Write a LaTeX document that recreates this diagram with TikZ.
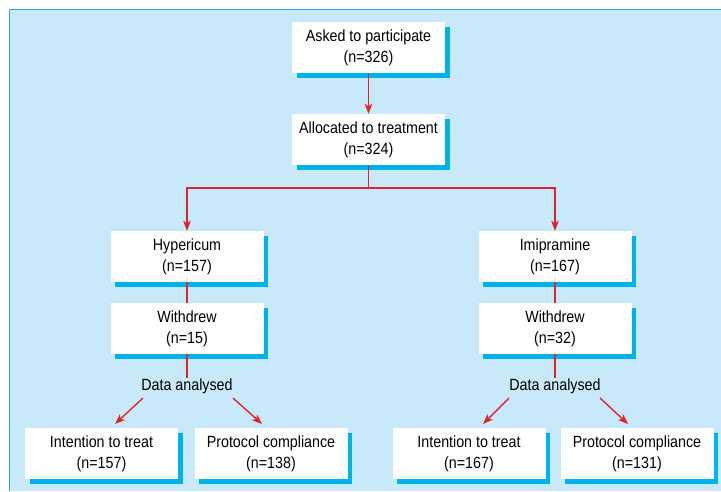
\documentclass[tikz,border=0pt]{standalone}
\usepackage{fontspec}
\setmainfont{Liberation Sans}[FakeStretch=0.88]
\usetikzlibrary{arrows.meta,shadows,calc}
\definecolor{panel}{HTML}{C8E9F9}
\definecolor{edgeblue}{HTML}{2AA6DF}
\definecolor{shadowc}{HTML}{00B2EA}
\definecolor{arrowred}{HTML}{E5212B}
\begin{document}
\begin{tikzpicture}[x=1pt,y=-1pt,
  box/.style={fill=white, draw=none, minimum width=153pt, minimum height=51pt,
    inner sep=0pt, align=center, font=\fontsize{16.2}{21}\selectfont,
    drop shadow={shadow xshift=4.5pt, shadow yshift=-4.5pt, fill=shadowc, opacity=1}},
  lbl/.style={inner sep=1pt, font=\fontsize{16.2}{21}\selectfont},
  link/.style={draw=arrowred, line width=1.4pt},
  arr/.style={link, -{Stealth[length=10pt,width=7.5pt,inset=2.5pt]}}
]
\useasboundingbox (0,0) rectangle (721,491);
\fill[white] (0,0) rectangle (721,491);
\fill[panel] (9,9) rectangle (721,491);
\draw[edgeblue, line width=1pt] (9,491) -- (9,9) -- (721,9);

\node[box] (ask) at (368.5,47.5) {Asked to participate\\(n=326)};
\node[box] (alloc) at (368.5,139.5) {Allocated to treatment\\(n=324)};
\node[box] (hyp) at (187,256.5) {Hypericum\\(n=157)};
\node[box] (wd1) at (187,328.5) {Withdrew\\(n=15)};
\node[box] (imi) at (555,256.5) {Imipramine\\(n=167)};
\node[box] (wd2) at (555,328.5) {Withdrew\\(n=32)};
\node[lbl] (da1) at (187,386.5) {Data analysed};
\node[lbl] (da2) at (555,386.5) {Data analysed};
\node[box] (itt1) at (101.5,453.5) {Intention to treat\\(n=157)};
\node[box] (pc1) at (271,453.5) {Protocol compliance\\(n=138)};
\node[box] (itt2) at (469,453.5) {Intention to treat\\(n=167)};
\node[box] (pc2) at (637,453.5) {Protocol compliance\\(n=131)};

\coordinate (split) at (368.5,188);
\draw[arr] (ask) -- (alloc);
\draw[link] (alloc) -- (split);
\draw[arr] (split) -| (hyp);
\draw[arr] (split) -| (imi);
\draw[link] (hyp) -- (wd1);
\draw[link] (imi) -- (wd2);
\draw[link] (wd1.south) -- (da1.north);
\draw[link] (wd2.south) -- (da2.north);

\coordinate (a1s) at (143,398); \coordinate (a1e) at (115,424);
\coordinate (b1s) at (233,398); \coordinate (b1e) at (262,424);
\coordinate (a2s) at (509,398); \coordinate (a2e) at (483,424);
\coordinate (b2s) at (600,398); \coordinate (b2e) at (628,424);
\draw[arr] (a1s) -- (a1e);
\draw[arr] (b1s) -- (b1e);
\draw[arr] (a2s) -- (a2e);
\draw[arr] (b2s) -- (b2e);
\end{tikzpicture}
\end{document}
